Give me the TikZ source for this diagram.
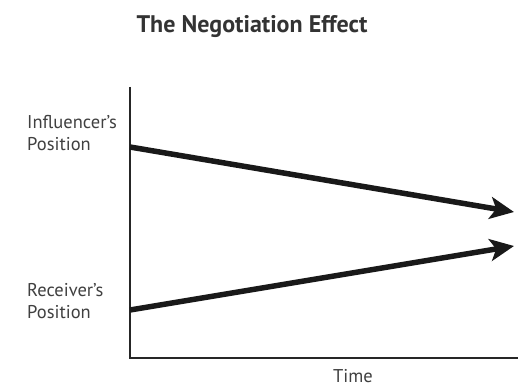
\documentclass[tikz,border=0pt]{standalone}
\usepackage{fontspec}
\setmainfont{PT Sans}
\usetikzlibrary{arrows.meta}
\begin{document}
\begin{tikzpicture}[x=1pt,y=-1pt,
  lbl/.style={inner sep=0pt,align=left,anchor=west,font=\fontsize{18.5}{22}\selectfont,text=black!75},
  axis/.style={line width=2pt,black!85},
  trend/.style={line width=5.5pt,black!90,-{Stealth[length=24pt,width=22pt,inset=6pt]}}]
\useasboundingbox[fill=white] (0,0) rectangle (519,387);
\node[inner sep=0pt,font=\bfseries\fontsize{24}{28}\selectfont,text=black!80] (title) at (252,27) {The Negotiation Effect};
\coordinate (top) at (130,87);
\coordinate (origin) at (130,358);
\coordinate (xend) at (518,358);
\draw[axis] (top) -- (origin) -- (xend);
\coordinate (infl) at (130,147);
\coordinate (inflend) at (514,212);
\coordinate (recv) at (130,310);
\coordinate (recvend) at (514,246);
\draw[trend] (infl) -- (inflend);
\draw[trend] (recv) -- (recvend);
\node[lbl] (il) at (27,133) {Influencer's\\Position};
\node[lbl] (rl) at (27,301) {Receiver's\\Position};
\node[inner sep=0pt,font=\fontsize{18.5}{22}\selectfont,text=black!75] (time) at (353,376) {Time};
\end{tikzpicture}
\end{document}
